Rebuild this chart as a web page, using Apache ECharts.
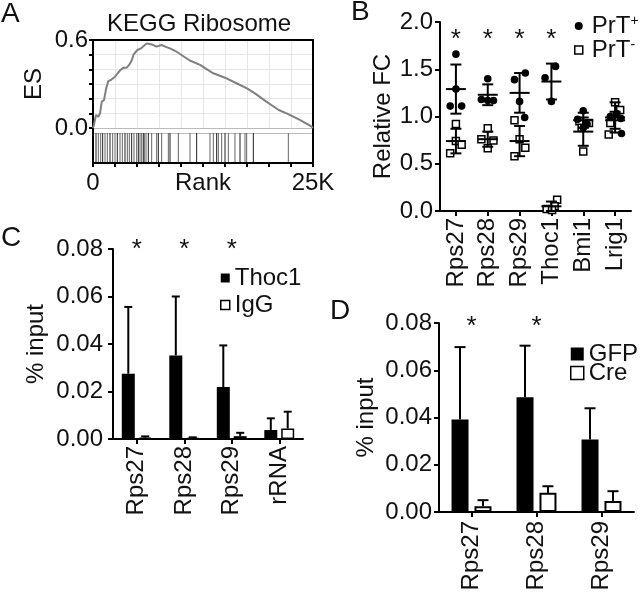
<!DOCTYPE html>
<html><head><meta charset="utf-8">
<script src="https://cdn.jsdelivr.net/npm/echarts@6/dist/echarts.min.js"></script>
<style>html,body{margin:0;padding:0;background:#fff}#c{width:640px;height:594px}</style>
</head><body><div id="c"></div>
<script>
// ---------------- DATA ----------------
// Panel A: GSEA running enrichment score
const esRank  = [0, 100, 340, 600, 800, 1000, 1250, 1500, 1740, 2100, 2500, 2770, 3100, 3450, 3800, 4100, 4400, 4600, 5000, 5500, 6100, 6700, 7200, 7800, 8200, 8750, 9500, 11000, 12160, 13670, 15000, 16300, 17500, 18400, 19700, 21100, 22000, 22200, 23500, 24850, 25000];
const esValue = [0, 0.02, 0.089, 0.077, 0.10, 0.18, 0.19, 0.27, 0.32, 0.33, 0.35, 0.37, 0.395, 0.41, 0.41, 0.43, 0.46, 0.50, 0.53, 0.545, 0.577, 0.57, 0.555, 0.566, 0.555, 0.543, 0.52, 0.46, 0.43, 0.373, 0.343, 0.305, 0.27, 0.236, 0.18, 0.123, 0.10, 0.11, 0.055, 0.009, 0];
const hitRanks = [341, 606, 871, 1098, 1364, 1629, 1932, 2235, 2500, 2765, 3068, 3333, 3636, 3902, 4129, 4394, 4659, 4962, 5152, 5341, 5530, 5720, 5833, 6023, 6288, 6667, 7235, 7424, 7803, 8561, 8750, 9697, 11023, 11780, 13295, 13674, 14053, 14242, 14621, 15000, 15379, 16136, 16705, 17273, 17462, 18220, 22197];
const aTickLabels = {0: '0', 25000: '25K'};

// Panel B: relative fold change
const bCategories = ['Rps27', 'Rps28', 'Rps29', 'Thoc1', 'Bmi1', 'Lrig1'];
const bPosValues = [[1.66, 1.29, 1.11, 1.11], [1.40, 1.18, 1.17, 1.17], [1.46, 1.39, 1.16, 0.99], [1.41, 1.53, 1.16], [1.06, 0.97, 0.92, 0.88], [1.03, 1.00, 0.98, 0.82]];
const bPosJitter = [[0, 0, -0.18, 0.18], [0, -0.2, 0, 0.18], [0.18, -0.16, 0, 0.16], [-0.2, 0.13, 0], [0, -0.18, 0.12, 0], [0.05, -0.15, 0.18, 0.2]];
const bNegValues = [[0.92, 0.74, 0.70, 0.61], [0.875, 0.76, 0.745, 0.665], [0.96, 0.76, 0.67, 0.58], [0.12, 0.05, 0.02, 0.01], [0.95, 0.93, 0.88, 0.63], [1.15, 1.07, 0.93, 0.81]];
const bNegJitter = [[0, 0, 0.18, -0.18], [0, -0.2, 0.18, 0], [-0.16, 0, 0.18, -0.16], [0.18, 0.1, -0.15, 0.02], [-0.12, 0.18, -0.05, 0], [0, 0.16, -0.15, -0.2]];
const bPosMean = [1.29, 1.23, 1.25, 1.37, 0.96, 0.96];
const bPosSd   = [0.26, 0.11, 0.21, 0.19, 0.08, 0.09];
const bNegMean = [0.74, 0.76, 0.74, 0.05, 0.84, 0.99];
const bNegSd   = [0.13, 0.08, 0.16, 0.05, 0.15, 0.16];
const bStars   = [[0, 1.88], [1, 1.88], [2, 1.88], [3, 1.88]];

// Panel C: ChIP % input
const cCategories = ['Rps27', 'Rps28', 'Rps29', 'rRNA'];
const cThoc1    = [0.0275, 0.0352, 0.0219, 0.0038];
const cThoc1Err = [0.0281, 0.0248, 0.0175, 0.0049];
const cIgG      = [0.0006, 0.0004, 0.0012, 0.0044];
const cIgGErr   = [0.0005, 0.0003, 0.0014, 0.0071];
const cStars    = [[0, 0.082], [1, 0.082], [2, 0.082]];

// Panel D: ChIP % input
const dCategories = ['Rps27', 'Rps28', 'Rps29'];
const dGFP    = [0.0392, 0.0486, 0.0307];
const dGFPErr = [0.0306, 0.0218, 0.0132];
const dCre    = [0.0024, 0.0081, 0.0047];
const dCreErr = [0.0026, 0.0028, 0.0041];
const dStars  = [[0, 0.081], [1, 0.081]];

// ---------------- STYLE ----------------
const FONT = "'Liberation Sans', Arial, sans-serif";
const TXT = '#111';
const FS = 24;
const STAR_DY = 6; // the '*' glyph sits high in its em box
const blackLine = {lineStyle: {color: '#000', width: 2}};
const outTick = {show: true, inside: false, length: 5, lineStyle: {color: '#000', width: 2}};
const lbl = (extra) => Object.assign({color: TXT, fontFamily: FONT, fontSize: FS}, extra || {});
const nameStyle = {color: TXT, fontFamily: FONT, fontSize: FS};

function zip(a, b) { return a.map((v, i) => [v, b[i]]); }
function pts(vals, jit) { const o = []; vals.forEach((arr, i) => arr.forEach((v, j) => o.push([i, v, jit[i][j]]))); return o; }
function triples(a, b) { return a.map((v, i) => [i, v, b[i]]); }

function starSeries(xi, yi, data) {
  return {type: 'custom', xAxisIndex: xi, yAxisIndex: yi, data: data, silent: true, z: 5,
    renderItem: (p, api) => {
      const c = api.coord([api.value(0), api.value(1)]);
      return {type: 'text', style: {text: '*', x: c[0], y: c[1] + STAR_DY, fontSize: 26, fontFamily: FONT, align: 'center', verticalAlign: 'middle', fill: TXT}};
    }};
}
function upErr(xi, yi, data, offset, cap) {
  return {type: 'custom', xAxisIndex: xi, yAxisIndex: yi, data: data, silent: true, z: 3,
    renderItem: (p, api) => {
      const a = api.coord([api.value(0), api.value(1)]);
      const b = api.coord([api.value(0), api.value(1) + api.value(2)]);
      const x = a[0] + offset;
      const st = {stroke: '#000', lineWidth: 2};
      return {type: 'group', children: [
        {type: 'line', shape: {x1: x, y1: a[1], x2: x, y2: b[1]}, style: st},
        {type: 'line', shape: {x1: x - cap / 2, y1: b[1], x2: x + cap / 2, y2: b[1]}, style: st}
      ]};
    }};
}
function statSeries(data) {
  return {type: 'custom', xAxisIndex: 4, yAxisIndex: 3, data: data, silent: true, z: 4,
    renderItem: (p, api) => {
      const m = api.coord([api.value(0), api.value(1)]);
      const t = api.coord([api.value(0), api.value(1) + api.value(2)]);
      const b = api.coord([api.value(0), api.value(1) - api.value(2)]);
      const st = {stroke: '#000', lineWidth: 2};
      const x = m[0];
      return {type: 'group', children: [
        {type: 'line', shape: {x1: x - 10, y1: m[1], x2: x + 10, y2: m[1]}, style: st},
        {type: 'line', shape: {x1: x, y1: t[1], x2: x, y2: b[1]}, style: st},
        {type: 'line', shape: {x1: x - 5.5, y1: t[1], x2: x + 5.5, y2: t[1]}, style: st},
        {type: 'line', shape: {x1: x - 5.5, y1: b[1], x2: x + 5.5, y2: b[1]}, style: st}
      ]};
    }};
}

const chart = echarts.init(document.getElementById('c'), null, {renderer: 'canvas'});
const option = {
  animation: false,
  backgroundColor: '#fff',
  textStyle: {fontFamily: FONT},
  title: [
    {text: 'A', left: 1, top: 0, padding: 0, textStyle: {fontSize: 28, fontWeight: 'normal', color: TXT, fontFamily: FONT}},
    {text: 'KEGG Ribosome', left: 107, top: 12, padding: 0, textStyle: {fontSize: 24, fontWeight: 'normal', color: TXT, fontFamily: FONT}},
    {text: 'B', left: 351, top: -2, padding: 0, textStyle: {fontSize: 28, fontWeight: 'normal', color: TXT, fontFamily: FONT}},
    {text: 'C', left: 1, top: 224, padding: 0, textStyle: {fontSize: 28, fontWeight: 'normal', color: TXT, fontFamily: FONT}},
    {text: 'D', left: 330, top: 297, padding: 0, textStyle: {fontSize: 28, fontWeight: 'normal', color: TXT, fontFamily: FONT}}
  ],
  legend: [
    {data: [{name: 'PrT+', icon: 'circle', itemStyle: {color: '#000', borderWidth: 0}},
            {name: 'PrT-', icon: 'rect', itemStyle: {color: '#fff', borderColor: '#000', borderWidth: 1.5}}],
     orient: 'vertical', left: 574, top: 14, padding: 0, itemGap: 0, itemWidth: 8, itemHeight: 8, selectedMode: false,
     formatter: n => n === 'PrT+' ? '{m|PrT}{s|+}' : '{m|PrT}{s|-}',
     textStyle: {color: TXT, fontFamily: FONT, fontSize: FS, lineHeight: 24, padding: [0, 0, 0, 4],
       rich: {m: {fontSize: 24, lineHeight: 24, fontFamily: FONT, color: TXT}, s: {fontSize: 14, lineHeight: 14, fontFamily: FONT, color: TXT, verticalAlign: 'top'}}}},
    {data: [{name: 'Thoc1', icon: 'rect', itemStyle: {color: '#000', borderWidth: 0}},
            {name: 'IgG', icon: 'rect', itemStyle: {color: '#fff', borderColor: '#000', borderWidth: 1.5}}],
     orient: 'vertical', left: 220, top: 266, padding: 0, itemGap: 3, itemWidth: 9, itemHeight: 9, selectedMode: false,
     textStyle: {color: TXT, fontFamily: FONT, fontSize: FS, lineHeight: 24}},
    {data: [{name: 'GFP', icon: 'rect', itemStyle: {color: '#000', borderWidth: 0}},
            {name: 'Cre', icon: 'rect', itemStyle: {color: '#fff', borderColor: '#000', borderWidth: 1.5}}],
     orient: 'vertical', left: 570, top: 342, padding: 0, itemGap: -5, itemWidth: 13, itemHeight: 13, selectedMode: false,
     textStyle: {color: TXT, fontFamily: FONT, fontSize: FS, lineHeight: 19}}
  ],
  grid: [
    {left: 93, top: 40, width: 220, height: 88},                      // A ES curve
    {left: 93, top: 133, width: 220, height: 30},                     // A hits
    {left: 93, top: 40, width: 220, height: 123, show: true, borderColor: '#000', borderWidth: 2, backgroundColor: 'transparent', z: 3}, // A frame
    {left: 440, top: 22, width: 191, height: 189},                    // B
    {left: 113, top: 249, width: 190, height: 190},                   // C
    {left: 439, top: 323, width: 195, height: 189}                    // D
  ],
  xAxis: [
    {gridIndex: 0, type: 'value', min: 0, max: 25000, interval: 2500, axisLine: {onZero: false, lineStyle: {color: '#bbb', width: 1}}, axisTick: {show: false}, axisLabel: {show: false}, splitLine: {show: true, lineStyle: {color: '#e6e6e6', width: 1}}},
    {gridIndex: 1, type: 'value', min: 0, max: 25000, interval: 2500, axisLine: Object.assign({onZero: false}, blackLine), axisTick: {show: true, length: 4, lineStyle: {color: '#000', width: 2}},
     axisLabel: lbl({margin: 8, showMinLabel: true, showMaxLabel: true, formatter: v => aTickLabels[v] || ''}), splitLine: {show: false},
     name: 'Rank', nameLocation: 'middle', nameGap: 8, nameMoveOverlap: false, nameTextStyle: Object.assign({verticalAlign: 'top'}, nameStyle)},
    {gridIndex: 1, type: 'value', position: 'top', min: 0, max: 25000, axisLine: {onZero: false, lineStyle: {color: '#bbb', width: 1}}, axisTick: {show: false}, axisLabel: {show: false}, splitLine: {show: false}},
    {gridIndex: 2, type: 'value', show: false, min: 0, max: 1},
    {gridIndex: 3, type: 'category', data: bCategories, axisLine: blackLine, axisTick: Object.assign({alignWithLabel: true}, outTick), axisLabel: lbl({rotate: 90, margin: 7, interval: 0})},
    {gridIndex: 4, type: 'category', data: cCategories, axisLine: blackLine, axisTick: Object.assign({alignWithLabel: true}, outTick), axisLabel: lbl({rotate: 90, margin: 7, interval: 0})},
    {gridIndex: 5, type: 'category', data: dCategories, axisLine: blackLine, axisTick: Object.assign({alignWithLabel: true}, outTick), axisLabel: lbl({rotate: 90, margin: 9, interval: 0})}
  ],
  yAxis: [
    {gridIndex: 0, type: 'value', min: 0, max: 0.6, interval: 0.1, axisLine: {show: true, onZero: false, lineStyle: {color: '#000', width: 2}}, axisTick: {show: true, length: 4, lineStyle: {color: '#000', width: 2}},
     axisLabel: lbl({margin: 5, showMinLabel: true, showMaxLabel: true, formatter: v => (Math.abs(v) < 1e-9 ? '0.0' : (Math.abs(v - 0.6) < 1e-9 ? '0.6' : ''))}),
     splitLine: {show: true, lineStyle: {color: '#e6e6e6', width: 1}},
     name: 'ES', nameLocation: 'middle', nameGap: 47, nameMoveOverlap: false, nameTextStyle: nameStyle},
    {gridIndex: 1, type: 'value', show: false, min: 0, max: 1},
    {gridIndex: 2, type: 'value', show: false, min: 0, max: 1},
    {gridIndex: 3, type: 'value', min: 0, max: 2, interval: 0.5, axisLine: {show: true, lineStyle: {color: '#000', width: 2}}, axisTick: outTick,
     axisLabel: lbl({margin: 7, formatter: v => v.toFixed(1)}), splitLine: {show: false},
     name: 'Relative FC', nameLocation: 'middle', nameGap: 45, nameMoveOverlap: false, nameTextStyle: nameStyle},
    {gridIndex: 4, type: 'value', min: 0, max: 0.08, interval: 0.02, axisLine: {show: true, lineStyle: {color: '#000', width: 2}}, axisTick: outTick,
     axisLabel: lbl({margin: 10, formatter: v => v.toFixed(2)}), splitLine: {show: false},
     name: '% input', nameLocation: 'middle', nameGap: 65, nameMoveOverlap: false, nameTextStyle: nameStyle},
    {gridIndex: 5, type: 'value', min: 0, max: 0.08, interval: 0.02, axisLine: {show: true, lineStyle: {color: '#000', width: 2}}, axisTick: outTick,
     axisLabel: lbl({margin: 7, formatter: v => v.toFixed(2)}), splitLine: {show: false},
     name: '% input', nameLocation: 'middle', nameGap: 61, nameMoveOverlap: false, nameTextStyle: nameStyle}
  ],
  series: [
    // A
    {type: 'line', xAxisIndex: 0, yAxisIndex: 0, data: zip(esRank, esValue), symbol: 'none', lineStyle: {color: '#808080', width: 2}, silent: true, z: 4},
    {type: 'custom', xAxisIndex: 1, yAxisIndex: 1, data: hitRanks.map(r => [r, 1]), encode: {x: 0, y: 1}, silent: true,
     renderItem: (p, api) => {
       const a = api.coord([api.value(0), 0]); const b = api.coord([api.value(0), api.value(1)]);
       return {type: 'line', shape: {x1: a[0], y1: a[1], x2: b[0], y2: b[1]}, style: {stroke: p.dataIndex % 3 === 0 ? '#222' : '#666', lineWidth: 1}};
     }},
    {type: 'line', xAxisIndex: 3, yAxisIndex: 2, data: [], silent: true},
    // B
    {name: 'PrT-', type: 'custom', xAxisIndex: 4, yAxisIndex: 3, data: pts(bNegValues, bNegJitter), z: 2,
     renderItem: (p, api) => {
       const c = api.coord([api.value(0), api.value(1)]); const bw = api.size([1, 0])[0]; const x = c[0] + api.value(2) * bw;
       return {type: 'rect', shape: {x: x - 3.5, y: c[1] - 3.5, width: 7, height: 7}, style: {fill: '#fff', stroke: '#000', lineWidth: 1.5}};
     }},
    {name: 'PrT+', type: 'custom', xAxisIndex: 4, yAxisIndex: 3, data: pts(bPosValues, bPosJitter), z: 3,
     renderItem: (p, api) => {
       const c = api.coord([api.value(0), api.value(1)]); const bw = api.size([1, 0])[0]; const x = c[0] + api.value(2) * bw;
       return {type: 'circle', shape: {cx: x, cy: c[1], r: 3.8}, style: {fill: '#000'}};
     }},
    statSeries(triples(bPosMean, bPosSd)),
    statSeries(triples(bNegMean, bNegSd)),
    starSeries(4, 3, bStars),
    // C
    {name: 'Thoc1', type: 'bar', xAxisIndex: 5, yAxisIndex: 4, data: cThoc1, barWidth: 13, barGap: '30%', itemStyle: {color: '#000'}, z: 2},
    {name: 'IgG', type: 'bar', xAxisIndex: 5, yAxisIndex: 4, data: cIgG, barWidth: 13, barGap: '30%', itemStyle: {color: '#fff', borderColor: '#000', borderWidth: 1.5}, z: 2},
    upErr(5, 4, triples(cThoc1, cThoc1Err), -8.45, 8),
    upErr(5, 4, triples(cIgG, cIgGErr), 8.45, 8),
    starSeries(5, 4, cStars),
    // D
    {name: 'GFP', type: 'bar', xAxisIndex: 6, yAxisIndex: 5, data: dGFP, barWidth: 17, barGap: '35%', itemStyle: {color: '#000'}, z: 2},
    {name: 'Cre', type: 'bar', xAxisIndex: 6, yAxisIndex: 5, data: dCre, barWidth: 17, barGap: '35%', itemStyle: {color: '#fff', borderColor: '#000', borderWidth: 2}, z: 2},
    upErr(6, 5, triples(dGFP, dGFPErr), -11.475, 11),
    upErr(6, 5, triples(dCre, dCreErr), 11.475, 11),
    starSeries(6, 5, dStars)
  ]
};
chart.setOption(option);
</script>
</body></html>
